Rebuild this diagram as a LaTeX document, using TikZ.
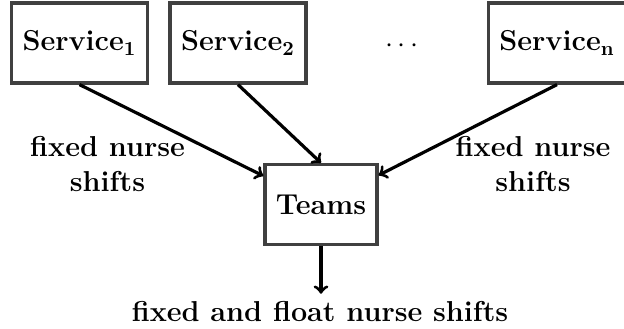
\documentclass[tikz,border=0pt]{standalone}
\begin{document}
\begin{tikzpicture}[x=0.5pt,y=0.5pt,
  font=\fontsize{14.4}{17.5}\selectfont\bfseries,
  box/.style={draw=black!75, line width=1.6pt, minimum height=40pt, inner xsep=5.5pt, fill=white},
  flow/.style={->, line width=1.6pt, draw=black}]
\useasboundingbox (0,0) rectangle (624,328);
\node[box] (s1) at (79.5,285) {Service$_{\mathbf{1}}$};
\node[box] (s2) at (238,285) {Service$_{\mathbf{2}}$};
\node (dots) at (402,282) {$\cdots$};
\node[box] (sn) at (557,285) {Service$_{\mathbf{n}}$};
\node[box] (teams) at (321,123.5) {Teams};
\node[align=center] (l1) at (107.5,164) {fixed nurse\\shifts};
\node[align=center] (l2) at (533,164) {fixed nurse\\shifts};
\node (out) at (320,17) {fixed and float nurse shifts};
\draw[flow] (s1.south) -- (teams);
\draw[flow] (s2.south) -- (teams.north);
\draw[flow] (sn.south) -- (teams);
\draw[flow] (teams.south) -- (teams.south |- out.north);
\end{tikzpicture}
\end{document}
